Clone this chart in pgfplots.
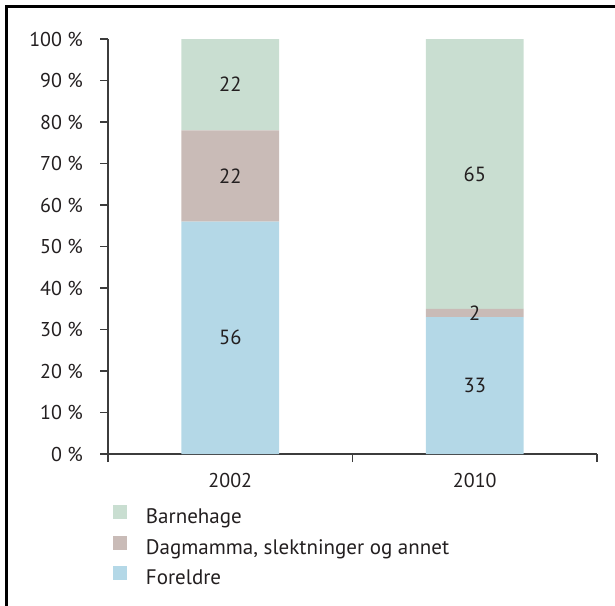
\documentclass[border=0pt]{standalone}
\usepackage{pgfplots}
\pgfplotsset{compat=1.18}
\usepackage{fontspec}
\setmainfont{PT Sans}
\definecolor{cgreen}{RGB}{201,222,209}
\definecolor{ctaupe}{RGB}{201,187,183}
\definecolor{cblue}{RGB}{180,216,231}
\definecolor{txt}{RGB}{35,31,32}
\definecolor{axc}{RGB}{60,60,60}
\begin{document}
\fontsize{20.5}{24}\selectfont
\begin{tikzpicture}
\path[use as bounding box] (0pt,0pt) rectangle (615pt,-605pt);
\draw[line width=2.5pt] (6.5pt,-640pt) -- (6.5pt,-6.5pt) -- (640pt,-6.5pt);
\begin{axis}[
  at={(108pt,-454pt)}, anchor=south west,
  scale only axis, width=489pt, height=415pt,
  xmin=-0.5, xmax=1.5, ymin=0, ymax=100,
  ybar stacked, bar width=0.4,
  axis x line*=bottom, axis y line*=left,
  axis line style={line width=1.2pt, color=axc},
  tick align=outside, major tick length=8pt,
  tick style={line width=1.2pt, color=axc},
  ytick={0,10,...,100},
  yticklabels={0 \%,10 \%,20 \%,30 \%,40 \%,50 \%,60 \%,70 \%,80 \%,90 \%,100 \%},
  xtick={-0.5,0.5,1.5}, xticklabels={},
  extra x ticks={0,1}, extra x tick labels={2002,2010},
  extra x tick style={major tick length=0pt},
  tick label style={font=\fontsize{20}{24}\selectfont, text=txt, inner sep=0pt},
  yticklabel style={anchor=east, xshift=-17pt},
  xticklabel style={anchor=base, yshift=-33pt},
  reverse legend,
  legend image code/.code={\fill[#1] (0pt,-1pt) rectangle (14pt,13pt); \path (33pt,0pt);},
  legend style={draw=none, fill=none, at={(0.0102,-0.1229)}, anchor=north west,
    inner sep=0pt, outer sep=0pt, row sep=8pt,
    font=\fontsize{21}{24}\selectfont,
    nodes={inner sep=0pt, text height=15pt, text depth=4pt, text=txt}},
  legend cell align=left,
]
\addplot[fill=cblue, draw=none] coordinates {(0,56) (1,33)};
\addlegendentry{Foreldre}
\addplot[fill=ctaupe, draw=none] coordinates {(0,22) (1,2)};
\addlegendentry{Dagmamma, slektninger og annet}
\addplot[fill=cgreen, draw=none] coordinates {(0,22) (1,65)};
\addlegendentry{Barnehage}
\end{axis}
\begin{axis}[
  at={(108pt,-454pt)}, anchor=south west,
  scale only axis, width=489pt, height=415pt,
  xmin=-0.5, xmax=1.5, ymin=0, ymax=100,
  hide axis, clip=false,
]
\addplot[scatter, only marks, point meta=explicit symbolic,
  mark=*, mark size=0pt, mark options={draw=none, fill=none},
  scatter/@pre marker code/.code={\node[text=txt, font=\fontsize{20.5}{24}\selectfont, inner sep=0pt, anchor=center] {\pgfplotspointmeta};},
  scatter/@post marker code/.code={}]
  coordinates {(0,28) [56] (0,67) [22] (0,89) [22] (1,16.5) [33] (1,34) [2] (1,67.5) [65]};
\end{axis}
\end{tikzpicture}
\end{document}
